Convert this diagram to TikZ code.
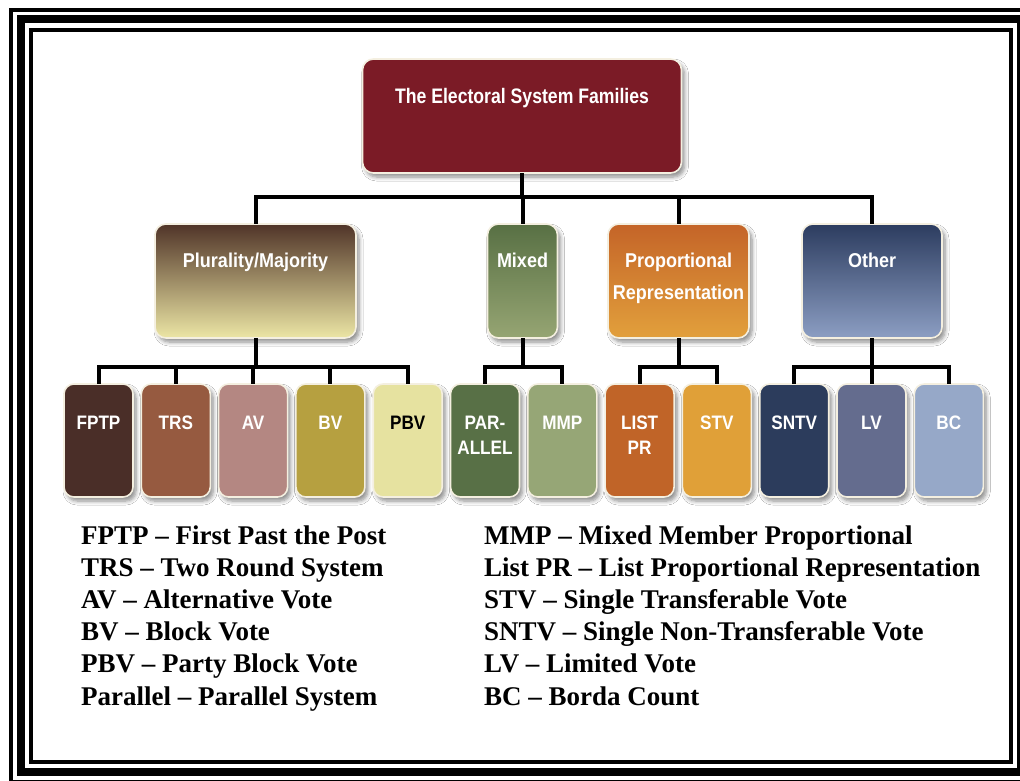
\documentclass[tikz,border=0pt]{standalone}
\usepackage{fontspec}
\setmainfont{Liberation Serif}
\newfontfamily\condfont[FakeStretch=0.84]{Liberation Sans}
\newfontfamily\condfontb[FakeStretch=0.9]{Liberation Sans}
\newfontfamily\condfontc[FakeStretch=0.88]{Liberation Sans}
\usetikzlibrary{shadows.blur}
\definecolor{topred}{HTML}{7B1B26}
\definecolor{plurtop}{HTML}{503428}
\definecolor{plurbot}{HTML}{ECE6A5}
\definecolor{mixtop}{HTML}{587044}
\definecolor{mixbot}{HTML}{96A573}
\definecolor{prtop}{HTML}{C46428}
\definecolor{prbot}{HTML}{E2A03C}
\definecolor{othtop}{HTML}{2C3C5F}
\definecolor{othbot}{HTML}{8C9EC3}
\definecolor{cFPTP}{HTML}{4A2E28}
\definecolor{cTRS}{HTML}{965A40}
\definecolor{cAV}{HTML}{B48782}
\definecolor{cBV}{HTML}{B6A040}
\definecolor{cPBV}{HTML}{E6E2A0}
\definecolor{cPAR}{HTML}{587046}
\definecolor{cMMP}{HTML}{96A676}
\definecolor{cLIST}{HTML}{C06428}
\definecolor{cSTV}{HTML}{E0A038}
\definecolor{cSNTV}{HTML}{2C3C5C}
\definecolor{cLV}{HTML}{646C8E}
\definecolor{cBC}{HTML}{96A8C8}
\definecolor{boxedge}{HTML}{F4EFE0}
\newcommand{\bxtext}[4]{\parbox[c][#1][t]{#2}{\centering\vspace*{#3}#4}}
\begin{document}
\begin{tikzpicture}[x=1pt,y=-1pt,
  bx/.style={rounded corners=11pt, draw=boxedge, line width=1.6pt, inner sep=0pt, outer sep=0pt, text=white,
    blur shadow={shadow xshift=3pt, shadow yshift=-4pt, shadow blur steps=6, shadow opacity=45, shadow blur radius=4pt}},
  lvltop/.style={bx, font=\condfont\bfseries\fontsize{21}{30}\selectfont},
  lvltwo/.style={bx, font=\condfontb\bfseries\fontsize{20}{32}\selectfont},
  lvlthree/.style={bx, rounded corners=10pt, font=\condfontc\bfseries\fontsize{19.5}{25}\selectfont},
  conn/.style={line width=4pt, black},
  leg/.style={anchor=base west, inner sep=0pt, font=\fontsize{27}{30}\selectfont\bfseries},
  frame/.style={draw=black}
]
\useasboundingbox (0,0) rectangle (1020,780);
\clip (0,0) rectangle (1020,780);
\fill[white] (0,0) rectangle (1020,780);
% triple frame
\draw[frame, line width=4pt] (11,10) rectangle (1031,782);
\draw[frame, line width=8pt] (21,19) rectangle (1021,772);
\draw[frame, line width=4pt] (31,30) rectangle (1011,762);

% top
\node[lvltop, fill=topred] (top) at (522,116) {\bxtext{114pt}{319pt}{29pt}{The Electoral System Families}};

% level 2
\node[lvltwo, top color=plurtop, bottom color=plurbot] (plur) at (255.5,281) {\bxtext{114pt}{201pt}{29pt}{Plurality/Majority}};
\node[lvltwo, top color=mixtop, bottom color=mixbot] (mixed) at (522.5,281) {\bxtext{114pt}{70pt}{29pt}{Mixed}};
\node[lvltwo, top color=prtop, bottom color=prbot] (pr) at (678.5,281) {\bxtext{114pt}{141pt}{29pt}{Proportional\\Representation}};
\node[lvltwo, top color=othtop, bottom color=othbot] (other) at (872,281) {\bxtext{114pt}{140pt}{29pt}{Other}};

% level 3
\node[lvlthree, fill=cFPTP] (fptp) at (98.5,440.5) {\bxtext{113pt}{69pt}{32pt}{FPTP}};
\node[lvlthree, fill=cTRS] (trs) at (175.8,440.5) {\bxtext{113pt}{69pt}{32pt}{TRS}};
\node[lvlthree, fill=cAV] (av) at (253.1,440.5) {\bxtext{113pt}{69pt}{32pt}{AV}};
\node[lvlthree, fill=cBV] (bv) at (330.4,440.5) {\bxtext{113pt}{69pt}{32pt}{BV}};
\node[lvlthree, fill=cPBV, text=black] (pbv) at (407.7,440.5) {\bxtext{113pt}{69pt}{32pt}{PBV}};
\node[lvlthree, fill=cPAR] (par) at (485,440.5) {\bxtext{113pt}{69pt}{32pt}{PAR-\\ALLEL}};
\node[lvlthree, fill=cMMP] (mmp) at (562.3,440.5) {\bxtext{113pt}{69pt}{32pt}{MMP}};
\node[lvlthree, fill=cLIST] (list) at (639.6,440.5) {\bxtext{113pt}{69pt}{32pt}{LIST\\PR}};
\node[lvlthree, fill=cSTV] (stv) at (716.9,440.5) {\bxtext{113pt}{69pt}{32pt}{STV}};
\node[lvlthree, fill=cSNTV] (sntv) at (794.2,440.5) {\bxtext{113pt}{69pt}{32pt}{SNTV}};
\node[lvlthree, fill=cLV] (lv) at (871.5,440.5) {\bxtext{113pt}{69pt}{32pt}{LV}};
\node[lvlthree, fill=cBC] (bc) at (948.8,440.5) {\bxtext{113pt}{69pt}{32pt}{BC}};

% connectors top -> level 2
\coordinate (b0) at (522,197);
\draw[conn] (top.south) -- (b0);
\draw[conn] (b0) -| (plur.north);
\draw[conn] (b0) -| (mixed.north);
\draw[conn] (b0) -| (pr.north);
\draw[conn] (b0) -| (other.north);

% plurality
\coordinate (b1) at (255.5,367);
\draw[conn] (plur.south) -- (b1);
\foreach \c in {fptp,trs,av,bv,pbv} \draw[conn] (b1) -| (\c.north);
% mixed
\coordinate (b2) at (522.5,367);
\draw[conn] (mixed.south) -- (b2);
\foreach \c in {par,mmp} \draw[conn] (b2) -| (\c.north);
% PR
\coordinate (b3) at (678.5,367);
\draw[conn] (pr.south) -- (b3);
\foreach \c in {list,stv} \draw[conn] (b3) -| (\c.north);
% other
\coordinate (b4) at (872,367);
\draw[conn] (other.south) -- (b4);
\foreach \c in {sntv,lv,bc} \draw[conn] (b4) -| (\c.north);

% legend
\node[leg] (l1) at (81,544) {FPTP – First Past the Post};
\node[leg] (l2) at (81,576.2) {TRS – Two Round System};
\node[leg] (l3) at (81,608.4) {AV – Alternative Vote};
\node[leg] (l4) at (81,640.6) {BV – Block Vote};
\node[leg] (l5) at (81,672.8) {PBV – Party Block Vote};
\node[leg] (l6) at (81,705) {Parallel – Parallel System};
\node[leg] (r1) at (484,544) {MMP – Mixed Member Proportional};
\node[leg] (r2) at (484,576.2) {List PR – List Proportional Representation};
\node[leg] (r3) at (484,608.4) {STV – Single Transferable Vote};
\node[leg] (r4) at (484,640.6) {SNTV – Single Non-Transferable Vote};
\node[leg] (r5) at (484,672.8) {LV – Limited Vote};
\node[leg] (r6) at (484,705) {BC – Borda Count};
\end{tikzpicture}
\end{document}
